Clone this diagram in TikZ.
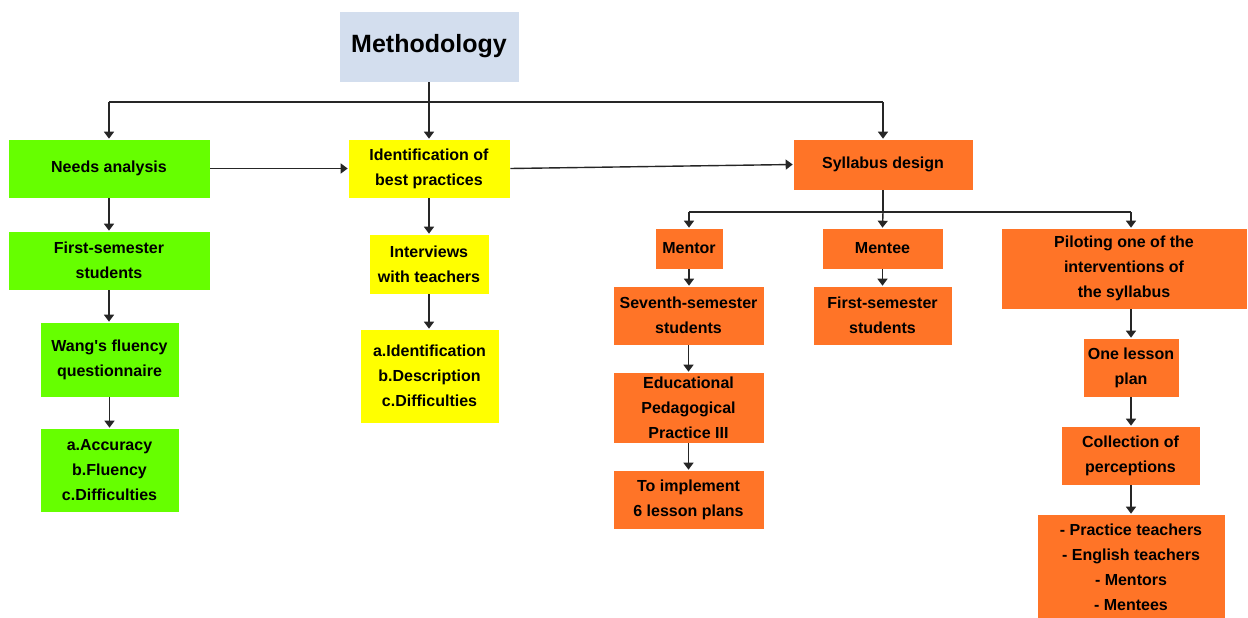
\documentclass[tikz,border=0pt]{standalone}
\usepackage{fontspec}
\setmainfont{Liberation Sans}
\usetikzlibrary{arrows.meta}
\definecolor{cmeth}{HTML}{D3DEEE}
\definecolor{cgreen}{HTML}{66FF00}
\definecolor{cyel}{HTML}{FFFF00}
\definecolor{corange}{HTML}{FF7427}
\tikzset{
  box/.style={draw=white, line width=0.6pt, inner sep=0pt, align=center,
    font=\bfseries\fontsize{16}{25}\selectfont, text=black},
  gbox/.style={box, fill=cgreen},
  ybox/.style={box, fill=cyel},
  obox/.style={box, fill=corange},
  conn/.style={line width=1.4pt, draw=black!85},
  arr/.style={conn, -{Triangle[width=10pt,length=7pt]}},
}
\begin{document}
\begin{tikzpicture}[x=1pt,y=-1pt]
\useasboundingbox (0,0) rectangle (1248,618);
% boxes: center (x,y), size
\node[box, fill=cmeth, minimum width=180, minimum height=71, font=\bfseries\fontsize{25}{30}\selectfont] (meth) at (429,46.5) {Methodology};
\node[gbox, minimum width=202, minimum height=59] (needs) at (109,168.5) {Needs analysis};
\node[ybox, minimum width=162, minimum height=59] (ident) at (429,168.5) {Identification of\\best practices};
\node[obox, minimum width=180, minimum height=51] (syll) at (883,164.5) {Syllabus design};
% left column
\node[gbox, minimum width=202, minimum height=59] (first) at (109,260.5) {First-semester\\students};
\node[gbox, minimum width=139, minimum height=75] (wang) at (109.5,359.5) {Wang\textquotesingle s fluency\\questionnaire};
\node[gbox, minimum width=139, minimum height=84] (acc) at (109.5,470) {a.Accuracy\\b.Fluency\\c.Difficulties};
% middle column
\node[ybox, minimum width=120, minimum height=60] (inter) at (429,264) {Interviews\\with teachers};
\node[ybox, minimum width=139, minimum height=94] (idlist) at (429.5,376) {a.Identification\\b.Description\\c.Difficulties};
% syllabus children
\node[obox, minimum width=68, minimum height=41] (mentor) at (689,248.5) {Mentor};
\node[obox, minimum width=121, minimum height=41] (mentee) at (882.5,248.5) {Mentee};
\node[obox, minimum width=246, minimum height=81] (pilot) at (1124,268.5) {Piloting one of the\\interventions of\\the syllabus};
\node[obox, minimum width=151, minimum height=59] (seventh) at (688.5,315.5) {Seventh-semester\\students};
\node[obox, minimum width=139, minimum height=59] (mfirst) at (882.5,315.5) {First-semester\\students};
\node[obox, minimum width=151, minimum height=71] (edu) at (688.5,407.5) {Educational\\Pedagogical\\Practice III};
\node[obox, minimum width=151, minimum height=59] (impl) at (688.5,499.5) {To implement\\6 lesson plans};
\node[obox, minimum width=96, minimum height=59] (lesson) at (1131,367.5) {One lesson\\plan};
\node[obox, minimum width=139, minimum height=59] (coll) at (1130.5,455.5) {Collection of\\perceptions};
\node[obox, minimum width=188, minimum height=106] (people) at (1131,567) {- Practice teachers\\- English teachers\\- Mentors\\- Mentees};
% top connectors
\coordinate (tl) at (109,102);
\coordinate (tr) at (883,102);
\coordinate (tm) at (429,102);
\draw[conn] (meth.south) -- (tm);
\draw[conn] (tl) -- (tr);
\draw[arr] (tl) -- (needs.north);
\draw[arr] (tm) -- (ident.north);
\draw[arr] (tr) -- (syll.north);
\draw[arr] (needs.east) -- (ident.west);
\draw[arr] (ident.east) -- (syll.west);
% left and middle chains
\draw[arr] (needs.south) -- (first.north);
\draw[arr] (first.south) -- (first.south |- wang.north);
\draw[arr] (wang.south) -- (acc.north);
\draw[arr] (ident.south) -- (inter.north);
\draw[arr] (inter.south) -- (inter.south |- idlist.north);
% syllabus branches
\coordinate (sl) at (689,212);
\coordinate (sr) at (1131,212);
\coordinate (sm) at (883,212);
\draw[conn] (syll.south) -- (sm);
\draw[conn] (sl) -- (sr);
\draw[arr] (sl) -- (mentor.north);
\draw[arr] (sm) -- (mentee.north);
\draw[arr] (sr) -- (sr |- pilot.north);
\draw[arr] (mentor.south) -- (mentor.south |- seventh.north);
\draw[arr] (mentee.south) -- (mentee.south |- mfirst.north);
\draw[arr] (seventh.south) -- (edu.north);
\draw[arr] (edu.south) -- (impl.north);
\draw[arr] (sr |- pilot.south) -- (lesson.north);
\draw[arr] (lesson.south) -- (lesson.south |- coll.north);
\draw[arr] (lesson.south |- coll.south) -- (people.north);
\end{tikzpicture}
\end{document}
